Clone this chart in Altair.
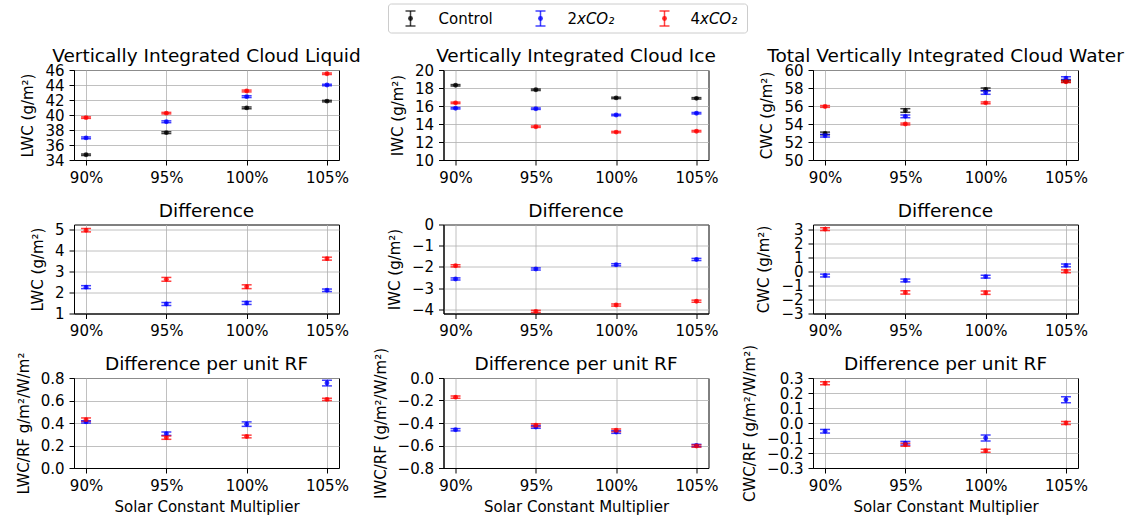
import altair as alt
import pandas as pd

# ---------------- data ----------------
MULT = [0.90, 0.95, 1.00, 1.05]
SERIES = ["Control", "2xCO2", "4xCO2"]

# Vertically integrated cloud liquid (g/m2)
LWC_CTRL = [34.7, 37.65, 40.95, 41.85]
LWC_2X = [36.95, 39.1, 42.45, 44.0]
LWC_4X = [39.65, 40.25, 43.2, 45.5]
LWC_CTRL_ERR = [0.10, 0.12, 0.12, 0.10]
LWC_2X_ERR = [0.12, 0.12, 0.12, 0.10]
LWC_4X_ERR = [0.10, 0.10, 0.12, 0.10]

# Vertically integrated cloud ice (g/m2)
IWC_CTRL = [18.3, 17.8, 16.9, 16.85]
IWC_2X = [15.75, 15.7, 15.0, 15.2]
IWC_4X = [16.35, 13.7, 13.1, 13.2]
IWC_CTRL_ERR = [0.08, 0.08, 0.08, 0.08]
IWC_2X_ERR = [0.08, 0.08, 0.08, 0.08]
IWC_4X_ERR = [0.08, 0.08, 0.08, 0.08]

# Total vertically integrated cloud water (g/m2)
CWC_CTRL = [52.95, 55.5, 57.85, 58.75]
CWC_2X = [52.7, 54.85, 57.5, 59.1]
CWC_4X = [55.95, 54.0, 56.35, 58.7]
CWC_CTRL_ERR = [0.15, 0.2, 0.15, 0.1]
CWC_2X_ERR = [0.15, 0.15, 0.2, 0.15]
CWC_4X_ERR = [0.1, 0.1, 0.1, 0.1]

# Differences (g/m2)
DLWC_2X = [2.25, 1.45, 1.5, 2.1]
DLWC_4X = [4.95, 2.62, 2.27, 3.6]
DLWC_2X_ERR = [0.07, 0.07, 0.07, 0.06]
DLWC_4X_ERR = [0.08, 0.09, 0.09, 0.07]

DIWC_2X = [-2.57, -2.1, -1.9, -1.65]
DIWC_4X = [-1.95, -4.1, -3.8, -3.62]
DIWC_2X_ERR = [0.05, 0.05, 0.05, 0.05]
DIWC_4X_ERR = [0.05, 0.05, 0.05, 0.05]

DCWC_2X = [-0.3, -0.65, -0.38, 0.42]
DCWC_4X = [3.0, -1.5, -1.52, 0.0]
DCWC_2X_ERR = [0.1, 0.1, 0.1, 0.1]
DCWC_4X_ERR = [0.1, 0.12, 0.12, 0.1]

# Difference per unit RF (g/m2 / W/m2)
RLWC_2X = [0.41, 0.305, 0.39, 0.755]
RLWC_4X = [0.43, 0.27, 0.28, 0.61]
RLWC_2X_ERR = [0.01, 0.015, 0.02, 0.025]
RLWC_4X_ERR = [0.015, 0.015, 0.012, 0.01]

RIWC_2X = [-0.46, -0.435, -0.48, -0.60]
RIWC_4X = [-0.17, -0.42, -0.465, -0.605]
RIWC_2X_ERR = [0.01, 0.012, 0.012, 0.01]
RIWC_4X_ERR = [0.01, 0.012, 0.012, 0.01]

RCWC_2X = [-0.055, -0.135, -0.10, 0.155]
RCWC_4X = [0.265, -0.145, -0.185, 0.0]
RCWC_2X_ERR = [0.012, 0.012, 0.02, 0.02]
RCWC_4X_ERR = [0.01, 0.01, 0.01, 0.01]

COLORS = ["black", "blue", "red"]
FONT = "DejaVu Sans"
PW = 265


def make_df(series_list):
    rows = []
    for name, vals, errs in series_list:
        for m, v, e in zip(MULT, vals, errs):
            rows.append({"mult": m, "series": name, "value": v,
                         "lo": v - e, "hi": v + e})
    return pd.DataFrame(rows)


color_enc = alt.Color("series:N",
                      scale=alt.Scale(domain=SERIES, range=COLORS),
                      legend=None)
one = pd.DataFrame({"k": [0]})


def panel(df, title, ytitle, domain, yvals, yfmt, xtitle=None, height=90,
          extra=()):
    if xtitle:
        xaxis = alt.Axis(values=MULT, format=".0%", title=xtitle,
                         titlePadding=6)
    else:
        xaxis = alt.Axis(values=MULT, format=".0%", title=None)
    xs = alt.Scale(domain=[0.8925, 1.0575], nice=False, zero=False)
    ys = alt.Scale(domain=domain, nice=False, zero=False)
    X = alt.X("mult:Q", scale=xs, axis=xaxis)
    X2 = alt.X2("mult:Q")
    yaxis = alt.Axis(values=yvals, format=yfmt, title=ytitle, titlePadding=9)
    Y = alt.Y("value:Q", scale=ys, axis=yaxis)
    Ylo = alt.Y("lo:Q", scale=ys, axis=yaxis)
    Yhi = alt.Y("hi:Q", scale=ys, axis=yaxis)
    base = alt.Chart(df)
    bars = base.mark_rule(strokeWidth=1.5, opacity=0.75).encode(
        x=X, y=Ylo, y2=alt.Y2("hi:Q"), color=color_enc)
    cap_lo = base.mark_rule(strokeWidth=1.5, opacity=0.75, xOffset=-5,
                            x2Offset=5).encode(
        x=X, x2=X2, y=Ylo, color=color_enc)
    cap_hi = base.mark_rule(strokeWidth=1.5, opacity=0.75, xOffset=-5,
                            x2Offset=5).encode(
        x=X, x2=X2, y=Yhi, color=color_enc)
    pts = base.mark_circle(size=24, opacity=0.8).encode(
        x=X, y=Y, color=color_enc)
    ttl = alt.Chart(one).mark_text(
        align="center", baseline="alphabetic", fontSize=18.5, font=FONT,
        color="black").encode(
        x=alt.value(PW / 2), y=alt.value(-8), text=alt.value(title))
    return alt.layer(bars, cap_lo, cap_hi, pts, ttl, *extra).properties(
        width=PW, height=height)


def legend_layers():
    out = []
    box = alt.Chart(one).mark_rect(fill="white", stroke="#cccccc",
                                   strokeWidth=1, cornerRadius=3).encode(
        x=alt.value(-55), x2=alt.value(304), y=alt.value(-66),
        y2=alt.value(-37))
    out.append(box)
    sym_x = [-33, 97, 221]
    txt_x = [-5, 124, 247]
    for i, s in enumerate(SERIES):
        c = COLORS[i]
        sx = sym_x[i]
        out.append(alt.Chart(one).mark_rule(color=c, strokeWidth=1.5,
                                            opacity=0.75).encode(
            x=alt.value(sx), y=alt.value(-59), y2=alt.value(-44)))
        out.append(alt.Chart(one).mark_rule(color=c, strokeWidth=1.5,
                                            opacity=0.75).encode(
            x=alt.value(sx - 5), x2=alt.value(sx + 5), y=alt.value(-59)))
        out.append(alt.Chart(one).mark_rule(color=c, strokeWidth=1.5,
                                            opacity=0.75).encode(
            x=alt.value(sx - 5), x2=alt.value(sx + 5), y=alt.value(-44)))
        out.append(alt.Chart(one).mark_circle(color=c, size=24,
                                              opacity=0.8).encode(
            x=alt.value(sx), y=alt.value(-51.5)))
        if s == "Control":
            out.append(alt.Chart(one).mark_text(
                align="left", baseline="middle", fontSize=15, font=FONT,
                color="black").encode(
                x=alt.value(txt_x[i]), y=alt.value(-51.5),
                text=alt.value("Control")))
        else:
            out.append(alt.Chart(one).mark_text(
                align="left", baseline="middle", fontSize=15, font=FONT,
                color="black").encode(
                x=alt.value(txt_x[i]), y=alt.value(-51.5),
                text=alt.value(s[0])))
            out.append(alt.Chart(one).mark_text(
                align="left", baseline="middle", fontSize=15, font=FONT,
                fontStyle="italic", color="black").encode(
                x=alt.value(txt_x[i] + 9.5), y=alt.value(-51.5),
                text=alt.value("xCO\u2082")))
    return out


anchor = alt.Chart(one).mark_rule(strokeOpacity=0, strokeWidth=0).encode(
    x=alt.value(-73), y=alt.value(0), y2=alt.value(1))

XT = "Solar Constant Multiplier"

c1 = panel(make_df([("Control", LWC_CTRL, LWC_CTRL_ERR),
                    ("2xCO2", LWC_2X, LWC_2X_ERR),
                    ("4xCO2", LWC_4X, LWC_4X_ERR)]),
           "Vertically Integrated Cloud Liquid", "LWC (g/m²)",
           [34, 46], [34, 36, 38, 40, 42, 44, 46], ".0f", extra=[anchor])

c2 = panel(make_df([("Control", IWC_CTRL, IWC_CTRL_ERR),
                    ("2xCO2", IWC_2X, IWC_2X_ERR),
                    ("4xCO2", IWC_4X, IWC_4X_ERR)]),
           "Vertically Integrated Cloud Ice", "IWC (g/m²)",
           [10, 20], [10, 12, 14, 16, 18, 20], ".0f", extra=legend_layers())

c3 = panel(make_df([("Control", CWC_CTRL, CWC_CTRL_ERR),
                    ("2xCO2", CWC_2X, CWC_2X_ERR),
                    ("4xCO2", CWC_4X, CWC_4X_ERR)]),
           "Total Vertically Integrated Cloud Water", "CWC (g/m²)",
           [50, 60], [50, 52, 54, 56, 58, 60], ".0f")

c4 = panel(make_df([("2xCO2", DLWC_2X, DLWC_2X_ERR),
                    ("4xCO2", DLWC_4X, DLWC_4X_ERR)]),
           "Difference", "LWC (g/m²)", [1, 5.22], [1, 2, 3, 4, 5], ".0f",
           height=89)

c5 = panel(make_df([("2xCO2", DIWC_2X, DIWC_2X_ERR),
                    ("4xCO2", DIWC_4X, DIWC_4X_ERR)]),
           "Difference", "IWC (g/m²)", [-4.2, 0], [-4, -3, -2, -1, 0],
           ".0f", height=89)

c6 = panel(make_df([("2xCO2", DCWC_2X, DCWC_2X_ERR),
                    ("4xCO2", DCWC_4X, DCWC_4X_ERR)]),
           "Difference", "CWC (g/m²)", [-3, 3.33],
           [-3, -2, -1, 0, 1, 2, 3], ".0f", height=89)

c7 = panel(make_df([("2xCO2", RLWC_2X, RLWC_2X_ERR),
                    ("4xCO2", RLWC_4X, RLWC_4X_ERR)]),
           "Difference per unit RF", "LWC/RF g/m²/W/m²", [0, 0.8],
           [0, 0.2, 0.4, 0.6, 0.8], ".1f", xtitle=XT)

c8 = panel(make_df([("2xCO2", RIWC_2X, RIWC_2X_ERR),
                    ("4xCO2", RIWC_4X, RIWC_4X_ERR)]),
           "Difference per unit RF", "IWC/RF (g/m²/W/m²)", [-0.8, 0],
           [-0.8, -0.6, -0.4, -0.2, 0], ".1f", xtitle=XT)

c9 = panel(make_df([("2xCO2", RCWC_2X, RCWC_2X_ERR),
                    ("4xCO2", RCWC_4X, RCWC_4X_ERR)]),
           "Difference per unit RF", "CWC/RF (g/m²/W/m²)", [-0.3, 0.3],
           [-0.3, -0.2, -0.1, 0, 0.1, 0.2, 0.3], ".1f", xtitle=XT)

chart = alt.concat(
    c1, c2, c3, c4, c5, c6, c7, c8, c9, columns=3,
    spacing={"row": 64.5, "column": 104.5}, bounds="flush"
).properties(
    autosize=alt.AutoSizeParams(type="pad"),
    padding={"left": 0, "top": 3, "right": 0, "bottom": 0},
    background="white",
).configure(font=FONT).configure_view(
    stroke="black", strokeWidth=1
).configure_axis(
    domainColor="black", domainWidth=1, tickColor="black", tickSize=5,
    tickWidth=1, labelPadding=5, labelFontSize=15, labelColor="black",
    labelFont=FONT, titleFont=FONT, titleFontSize=15,
    titleFontWeight="normal", titleColor="black", gridColor="#b0b0b0",
    gridWidth=0.8, labelFlush=False, labelOverlap=False
)

chart.save("out.html", embed_options={"renderer": "svg", "actions": False})
